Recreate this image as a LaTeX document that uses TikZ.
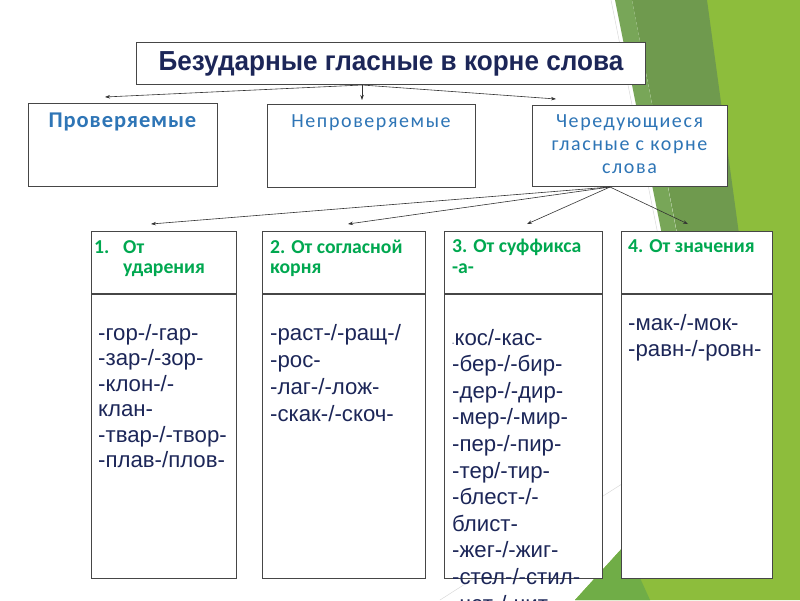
\documentclass[tikz,border=0pt]{standalone}
\usepackage{fontspec}
\setmainfont{Liberation Sans}
\newfontfamily\titlefont[FakeStretch=0.95]{Liberation Sans}
\newfontfamily\calfont{Carlito}
\newfontfamily\calspaced[LetterSpace=8]{Carlito}
\newfontfamily\calbold[LetterSpace=4]{Carlito}
\usetikzlibrary{arrows.meta,positioning}

\definecolor{navy}{RGB}{28,38,88}
\definecolor{capblue}{RGB}{46,117,182}
\definecolor{hdgreen}{RGB}{0,168,80}
\definecolor{bgdark}{RGB}{111,154,78}
\definecolor{bgstripe}{RGB}{120,166,88}
\definecolor{bglight}{RGB}{141,189,60}
\definecolor{bgmid}{RGB}{112,173,71}
\definecolor{edge}{RGB}{70,70,70}

\tikzset{
  box/.style={draw=edge, line width=0.8pt, fill=white, anchor=north west, inner sep=0pt},
  link/.style={draw=black!80, line width=0.6pt, ->},
  blue label/.style={text=capblue, inner sep=0pt, anchor=base, font=\calspaced\fontsize{20}{24}\selectfont},
  head/.style={text=hdgreen, inner sep=0pt, anchor=base west, font=\calfont\bfseries\fontsize{19.7}{23}\selectfont},
  roots/.style={text=navy, inner sep=0pt, anchor=base west, font=\fontsize{22.2}{26}\selectfont},
}

\begin{document}
\begin{tikzpicture}[x=1pt, y=-1pt, >={Stealth[length=5pt,width=3.5pt]}]
  \useasboundingbox (0,0) rectangle (800,600);
  % фон: зелёные грани справа
  \fill[bglight] (707,0) -- (800,0) -- (800,600) -- (575,600) -- (625,545) -- (712,300) -- cycle;
  \fill[bgmid] (575,600) -- (625,545) -- (650,600) -- cycle;
  \fill[bgdark] (632,0) -- (707,0) -- (748,300) -- (690,300) -- cycle;
  \fill[bgstripe] (615,0) -- (632,0) -- (680,250) -- (665,250) -- cycle;
  \draw[gray!30, line width=0.5pt] (611,0) -- (661,250);
  \draw[gray!30, line width=0.5pt] (440,600) -- (625,482);

  % заголовок
  \node[box, minimum width=509pt, minimum height=42pt, text=navy,
        font=\titlefont\bfseries\fontsize{27.5}{30}\selectfont] (title) at (136,42) {Безударные гласные в корне слова};

  % второй ряд
  \node[box, minimum width=189pt, minimum height=83pt] (prov) at (28,103) {};
  \node[blue label, font=\calbold\bfseries\fontsize{22.5}{26}\selectfont] (prov-t) at (122.5,127) {Проверяемые};
  \node[box, minimum width=208pt, minimum height=83pt] (neprov) at (267,104) {};
  \node[blue label] (neprov-t) at (371,127) {Непроверяемые};
  \node[box, minimum width=195pt, minimum height=81pt] (cher) at (532,105) {};
  \foreach \t [count=\i] in {Чередующиеся, гласные с корне, слова}
    \node[blue label] (cher-\i) at (629.5,{104+23*\i}) {\t};

  % стрелки от заголовка
  \coordinate (title-foot) at (362,85);
  \coordinate (to-prov) at (105,97);
  \coordinate (to-neprov) at (362,100);
  \coordinate (to-cher) at (556,99);
  \foreach \c in {to-prov, to-neprov, to-cher}
    \draw[link] (title-foot) -- (\c);

  % третий ряд: шапка и столбец
  \foreach \x/\w/\n in {91/145/1, 262/163/2, 444/158/3, 621/151/4} {
    \node[box, minimum width=\w pt, minimum height=62pt] (head-\n) at (\x,231) {};
    \node[box, minimum width=\w pt, minimum height=284pt] (body-\n) at (head-\n.south west) {};
  }

  % стрелки от чередующихся
  \coordinate (cher-foot) at (610,187);
  \coordinate (to-1) at (151,224);
  \coordinate (to-2) at (348,224);
  \coordinate (to-3) at (527,224);
  \coordinate (to-4) at (688,224);
  \foreach \n in {1,...,4}
    \draw[link] (cher-foot) -- (to-\n);

  % шапки
  \node[head] (h1-a) at (94,253) {1.};
  \node[head] (h1-b) at (123,253) {От};
  \node[head] (h1-c) at (123,273) {ударения};
  \node[head] (h2-a) at (270,253) {2. От согласной};
  \node[head] (h2-b) at (270,273) {корня};
  \node[head] (h3-a) at (452,252) {3. От суффикса};
  \node[head] (h3-b) at (452,273) {-а-};
  \node[head] (h4-a) at (628,252) {4. От значения};

  % корни
  \foreach \t [count=\i] in {-гор-/-гар-, -зар-/-зор-, -клон-/-, клан-, -твар-/-твор-, -плав-/плов-}
    \node[roots] (r1-\i) at (98,{340+25.5*(\i-1)}) {\t};
  \foreach \t [count=\i] in {-раст-/-ращ-/, -рос-, -лаг-/-лож-, -скак-/-скоч-}
    \node[roots] (r2-\i) at (270,{340+27*(\i-1)}) {\t};
  \foreach \t [count=\i] in {{{\scriptsize -}кос/-кас-}, -бер-/-бир-, -дер-/-дир-, -мер-/-мир-, -пер-/-пир-,
      -тер/-тир-, -блест-/-, блист-, -жег-/-жиг-, -стел-/-стил-, -чет-/-чит-}
    \node[roots] (r3-\i) at (452,{345+26.6*(\i-1)}) {\t};
  \foreach \t [count=\i] in {-мак-/-мок-, -равн-/-ровн-}
    \node[roots] (r4-\i) at (628,{330+26.5*(\i-1)}) {\t};
\end{tikzpicture}
\end{document}
